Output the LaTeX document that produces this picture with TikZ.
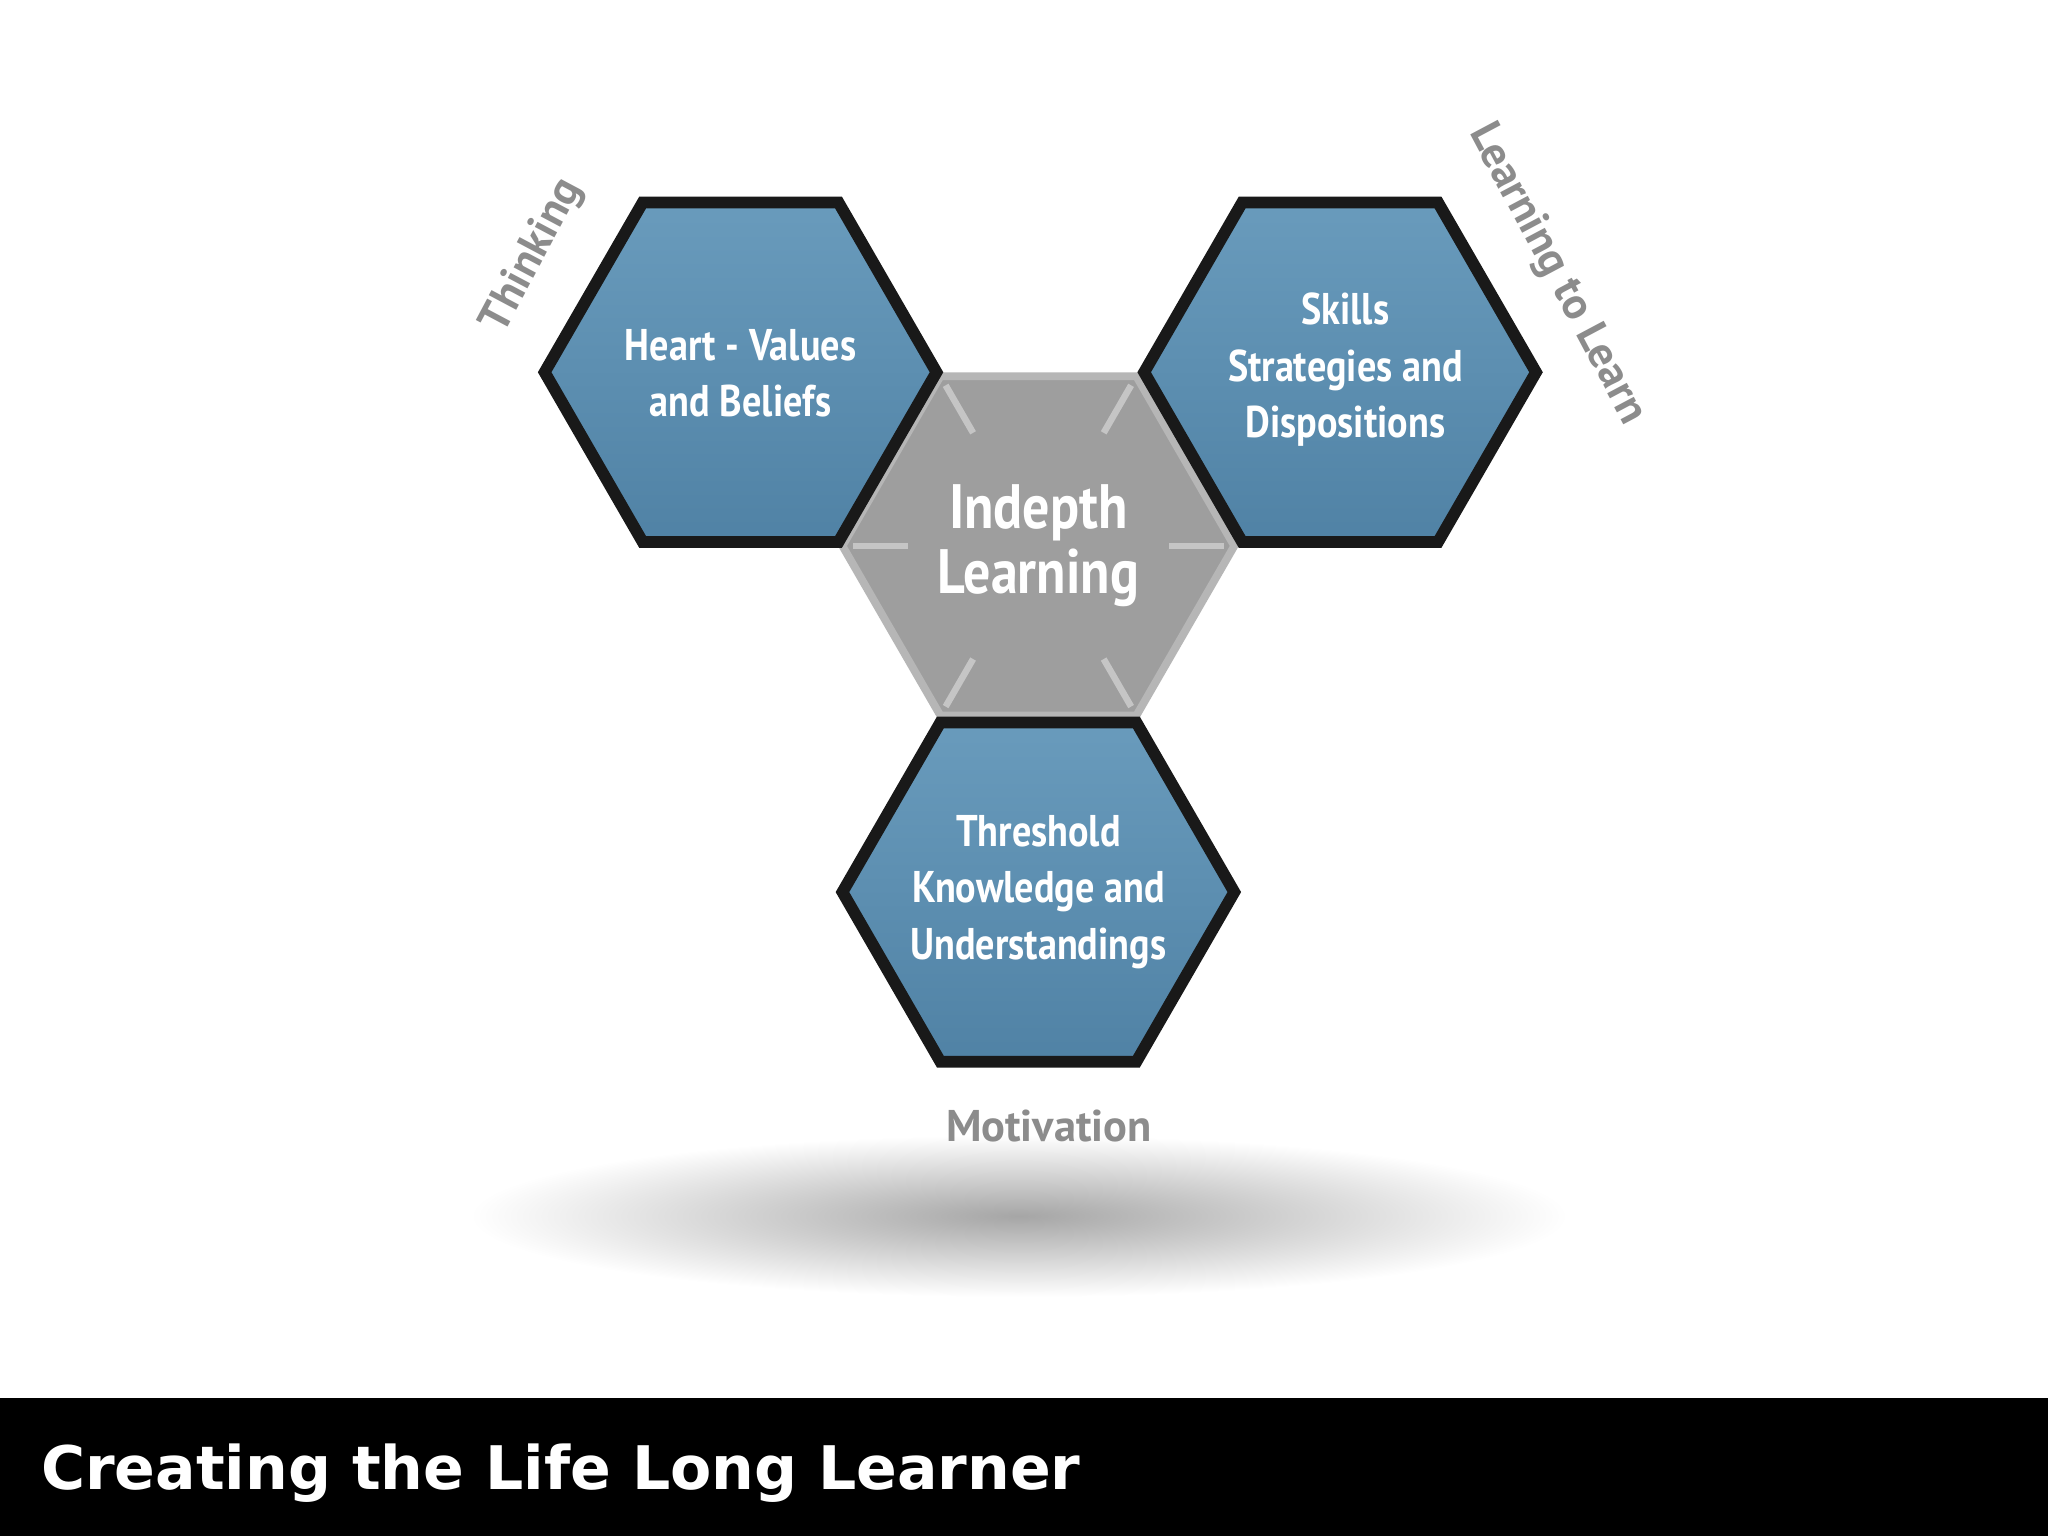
\documentclass[tikz,border=0pt]{standalone}
\usepackage{fontspec}
\setmainfont{PT Sans}
\newfontfamily\titlefont{DejaVu Sans}
\definecolor{hexblue}{RGB}{80,130,165}
\definecolor{hexblueTop}{RGB}{105,155,188}
\definecolor{centgray}{RGB}{158,158,158}
\definecolor{labgray}{RGB}{140,140,140}
\tikzset{
 bluehex/.style={draw=black!90, line width=9pt, line join=miter, top color=hexblueTop, bottom color=hexblue},
 grayhex/.style={fill=centgray, draw=centgray!75!white, line width=6pt},
 hextext/.style={text=white, font=\bfseries\fontsize{34}{43}\selectfont, align=center, xscale=0.86},
 sidelab/.style={text=labgray, font=\bfseries\fontsize{34}{36}\selectfont}
}
\begin{document}
\begin{tikzpicture}[x=1pt,y=1pt]
\useasboundingbox (0,0) rectangle (1568,1176);
\fill[white] (0,0) rectangle (1568,1176);
\shade[inner color=black!35, outer color=white] (780,245) ellipse (420 and 62);
\fill[black] (0,0) rectangle (1568,106);
\node[anchor=west, text=white, font=\titlefont\bfseries\fontsize{46}{50}\selectfont] (title) at (28,48) {Creating the Life Long Learner};
\coordinate (c) at (795,758);
\coordinate (l) at (567,891);
\coordinate (r) at (1026,891);
\coordinate (b) at (795,493);
\draw[grayhex] (c) +(0:150) -- +(60:150) -- +(120:150) -- +(180:150) -- +(240:150) -- +(300:150) -- cycle;
\foreach \a in {0,60,120,180,240,300}{
  \draw[line width=5pt, centgray!60!white] (c) ++(\a:100) -- ++(\a:42);
}
\foreach \p in {l,r,b}{
  \draw[bluehex] (\p) +(0:150) -- +(60:150) -- +(120:150) -- +(180:150) -- +(240:150) -- +(300:150) -- cycle;
}
\node[text=white, font=\bfseries\fontsize{48}{50}\selectfont, align=center, xscale=0.86] (ct) at (c) {Indepth\\Learning};
\node[hextext] (lt) at (567,890) {Heart - Values\\and Beliefs};
\node[hextext] (rt) at (1030,893) {Skills\\Strategies and\\Dispositions};
\node[hextext] (bt) at (795,493) {Threshold\\Knowledge and\\Understandings};
\node[sidelab, rotate=62] (t1) at (408,980) {Thinking};
\node[sidelab, rotate=-62] (t2) at (1192,966) {Learning to Learn};
\node[sidelab] (t3) at (803,314) {Motivation};
\end{tikzpicture}
\end{document}
